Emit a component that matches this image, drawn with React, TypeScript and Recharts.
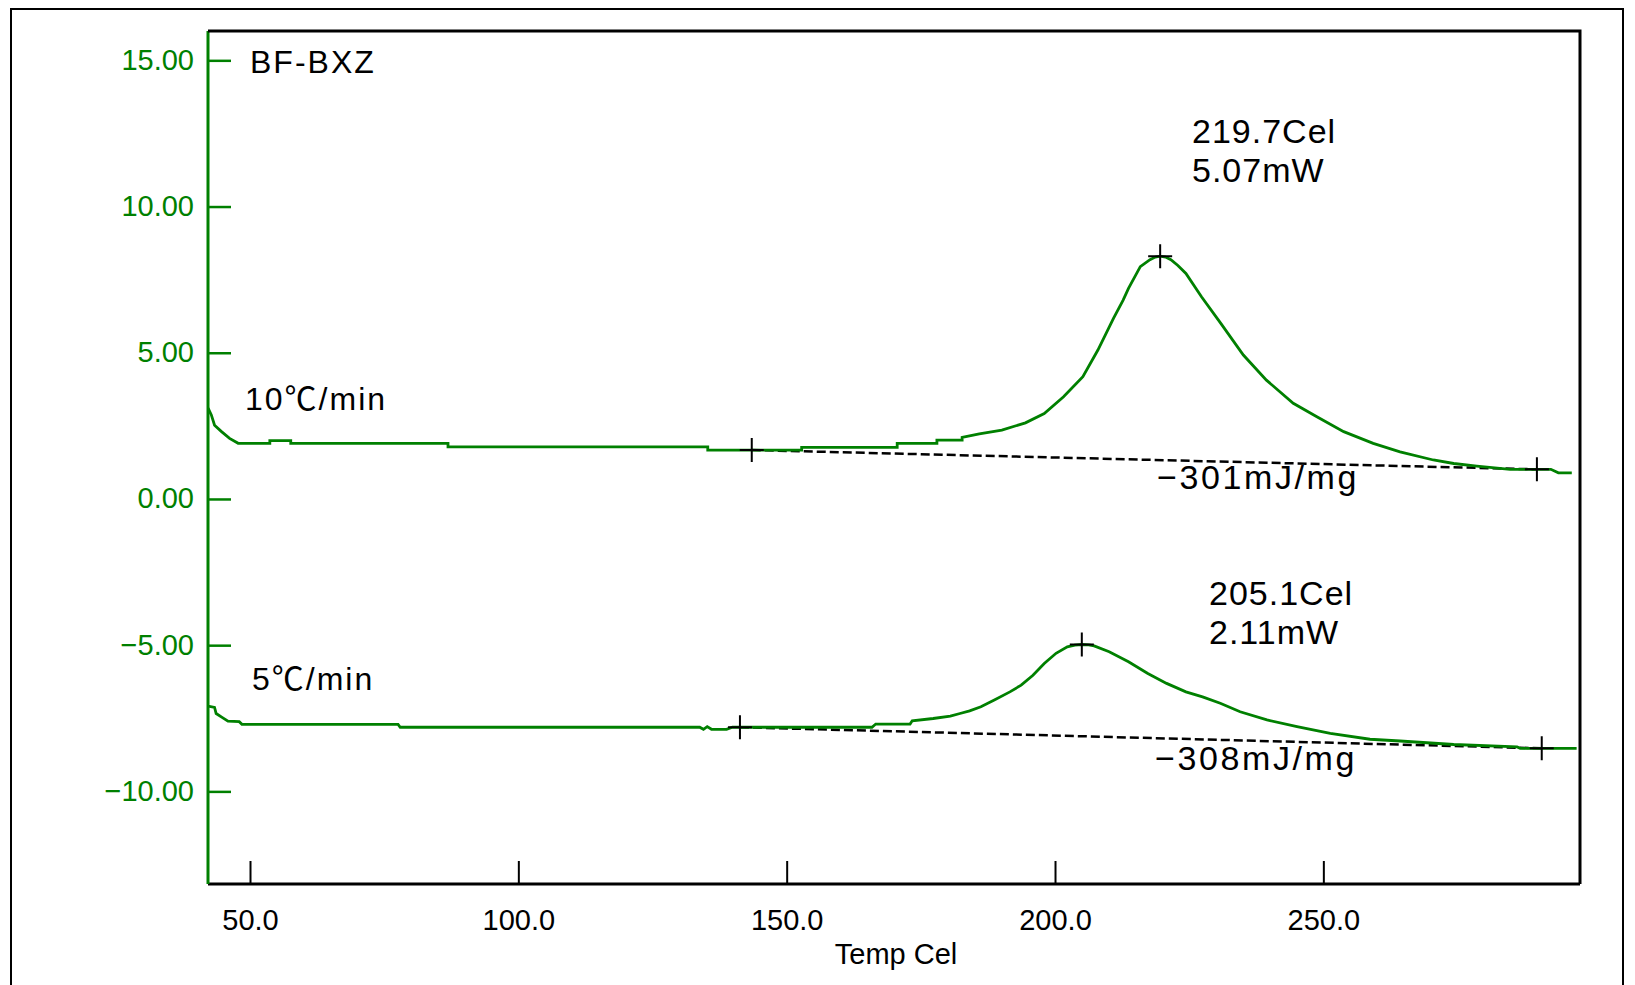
import React from "react";
import { ComposedChart, Line, Scatter, XAxis, YAxis } from "recharts";

// ─── DSC curves: heat flow (mW) vs temperature (Cel) ─────────
const GREEN = "#008000";
const AXIS_FONT = "'Liberation Sans', Arial, sans-serif";
const NOTE_FONT = "'Liberation Sans', 'Noto Sans CJK JP', Arial, sans-serif";

const X_TICKS = [50, 100, 150, 200, 250];
const Y_TICKS = [-10, -5, 0, 5, 10, 15];

// 10℃/min run
const TEMP_10 = [
  42.1, 42.7, 43.3, 44.6, 46.1, 47.7, 53.6, 53.6, 57.5, 57.5, 86.8, 86.8, 135.2, 135.2,
  152.7, 152.7, 170.5, 170.5, 177.9, 177.9, 182.6, 182.6, 185.8, 190.0, 194.4, 197.9,
  201.5, 205.1, 207.9, 210.8, 212.6, 213.6, 215.8, 217.6, 218.6, 219.5, 220.5, 221.5,
  222.8, 224.3, 227.2, 230.8, 235.0, 239.3, 244.3, 248.7, 253.7, 259.2, 264.2, 270.4,
  274.2, 278.5, 284.7, 292.3, 293.7, 296.2,
];
const HEAT_10 = [
  3.12, 2.89, 2.54, 2.32, 2.09, 1.92, 1.92, 2.01, 2.01, 1.92, 1.92, 1.80, 1.80, 1.69,
  1.69, 1.78, 1.78, 1.92, 1.92, 2.03, 2.03, 2.12, 2.24, 2.37, 2.62, 2.94,
  3.51, 4.20, 5.11, 6.19, 6.82, 7.22, 7.96, 8.20, 8.29, 8.32, 8.29, 8.20,
  8.00, 7.73, 6.93, 6.02, 4.94, 4.08, 3.29, 2.83, 2.32, 1.92, 1.63, 1.35,
  1.23, 1.14, 1.03, 1.03, 0.91, 0.91,
];

// 5℃/min run
const TEMP_5 = [
  42.1, 43.3, 43.6, 44.7, 45.8, 47.9, 48.4, 77.5, 77.9, 133.7, 134.4, 135.1, 135.9, 138.7,
  139.8, 165.8, 166.5, 172.9, 173.3, 177.2, 180.4, 182.2, 184.0, 186.1, 188.6, 191.5,
  193.6, 195.8, 197.9, 200.1, 202.2, 203.6, 204.9, 206.2, 207.2, 210.0, 213.6, 217.2,
  220.7, 224.3, 227.4, 230.7, 234.4, 239.4, 245.0, 251.2, 258.6, 264.2, 274.2, 286.0,
  286.6, 297.1,
];
const HEAT_5 = [
  -7.07, -7.11, -7.32, -7.45, -7.58, -7.60, -7.69, -7.69, -7.79, -7.79, -7.86, -7.77, -7.86, -7.86,
  -7.79, -7.79, -7.68, -7.68, -7.57, -7.49, -7.41, -7.32, -7.23, -7.09, -6.86, -6.58,
  -6.35, -6.01, -5.61, -5.26, -5.04, -4.98, -4.96, -4.97, -5.01, -5.21, -5.55, -5.95,
  -6.29, -6.58, -6.75, -6.97, -7.26, -7.54, -7.77, -8.00, -8.20, -8.26, -8.38, -8.46,
  -8.51, -8.51,
];

// integration baselines and marked points
const BASE_10_T = [143.4, 289.7];
const BASE_10_W = [1.69, 1.03];
const BASE_5_T = [141.2, 290.6];
const BASE_5_W = [-7.79, -8.51];
const MARK_T = [143.4, 219.5, 289.7, 141.2, 204.9, 290.6];
const MARK_W = [1.69, 8.32, 1.03, -7.79, -4.96, -8.51];

const zip = (t: number[], w: number[]) => t.map((v, i) => ({ t: v, w: w[i] }));

const run10 = zip(TEMP_10, HEAT_10);
const run5 = zip(TEMP_5, HEAT_5);
const base10 = zip(BASE_10_T, BASE_10_W);
const base5 = zip(BASE_5_T, BASE_5_W);
const marks = zip(MARK_T, MARK_W);

function XTick({ x, y, payload }: any) {
  return (
    <g>
      <line x1={x} x2={x} y1={y} y2={y - 23} stroke="#000" strokeWidth={2} />
      <text x={x} y={y + 46} textAnchor="middle" fontSize={29} fontFamily={AXIS_FONT} fill="#000">
        {Number(payload.value).toFixed(1)}
      </text>
    </g>
  );
}

function YTick({ x, y, payload }: any) {
  const v = Number(payload.value);
  const label = (v < 0 ? "\u2212" : "") + Math.abs(v).toFixed(2);
  return (
    <g>
      <line x1={x} x2={x + 23} y1={y} y2={y} stroke={GREEN} strokeWidth={2.5} />
      <text x={x - 14} y={y + 9} textAnchor="end" fontSize={29} fontFamily={AXIS_FONT} fill={GREEN}>
        {label}
      </text>
    </g>
  );
}

function PlusMark({ cx, cy }: any) {
  return (
    <path
      d={`M${cx - 12},${cy}H${cx + 12}M${cx},${cy - 12}V${cy + 12}`}
      stroke="#000"
      strokeWidth={2}
      fill="none"
    />
  );
}

function Note({ x, y, size = 32, spacing = 2, children }: any) {
  return (
    <text x={x} y={y} fontSize={size} letterSpacing={spacing} fontFamily={NOTE_FONT} fill="#000">
      {children}
    </text>
  );
}

export default function App() {
  return (
    <div style={{ position: "fixed", left: 0, top: 0, width: 1635, height: 985, overflow: "hidden", background: "#fff" }}>
      <div style={{ position: "absolute", left: 0, top: 0 }}>
        <ComposedChart width={1635} height={985} margin={{ top: 31, right: 55, left: 0, bottom: 0 }}>
          <XAxis
            type="number"
            dataKey="t"
            domain={[42.08, 297.73]}
            ticks={X_TICKS}
            allowDataOverflow
            height={101}
            tickSize={0}
            tickMargin={0}
            tickLine={false}
            axisLine={{ stroke: "#000", strokeWidth: 3 }}
            tick={<XTick />}
          />
          <YAxis
            type="number"
            dataKey="w"
            domain={[-13.15, 16.02]}
            ticks={Y_TICKS}
            allowDataOverflow
            width={208}
            tickSize={0}
            tickMargin={0}
            tickLine={false}
            axisLine={{ stroke: GREEN, strokeWidth: 3 }}
            tick={<YTick />}
          />
          <Line data={base10} dataKey="w" type="linear" stroke="#000" strokeWidth={2.5} strokeDasharray="9 4" dot={false} isAnimationActive={false} />
          <Line data={base5} dataKey="w" type="linear" stroke="#000" strokeWidth={2.5} strokeDasharray="9 4" dot={false} isAnimationActive={false} />
          <Line data={run10} dataKey="w" type="linear" stroke={GREEN} strokeWidth={2.8} dot={false} isAnimationActive={false} />
          <Line data={run5} dataKey="w" type="linear" stroke={GREEN} strokeWidth={2.8} dot={false} isAnimationActive={false} />
          <Scatter data={marks} dataKey="w" shape={<PlusMark />} isAnimationActive={false} />
        </ComposedChart>
      </div>
      <svg width={1635} height={985} style={{ position: "absolute", left: 0, top: 0, pointerEvents: "none" }}>
        {/* outer frame and plot frame */}
        <path d="M11,990V9H1623V990" stroke="#000" strokeWidth={2} fill="none" />
        <path d="M208,31H1580V884" stroke="#000" strokeWidth={3} fill="none" />
        <Note x={250} y={73}>BF-BXZ</Note>
        <Note x={245} y={410}>10℃/min</Note>
        <Note x={252} y={690}>5℃/min</Note>
        <Note x={1192} y={143} size={34} spacing={1}>219.7Cel</Note>
        <Note x={1192} y={182} size={34} spacing={1}>5.07mW</Note>
        <Note x={1157} y={489} size={34} spacing={2.6}>−301mJ/mg</Note>
        <Note x={1209} y={605} size={34} spacing={1}>205.1Cel</Note>
        <Note x={1209} y={644} size={34} spacing={1}>2.11mW</Note>
        <Note x={1155} y={770} size={34} spacing={2.6}>−308mJ/mg</Note>
        <text x={896} y={964} textAnchor="middle" fontSize={29} fontFamily={AXIS_FONT} fill="#000">
          Temp Cel
        </text>
      </svg>
    </div>
  );
}
